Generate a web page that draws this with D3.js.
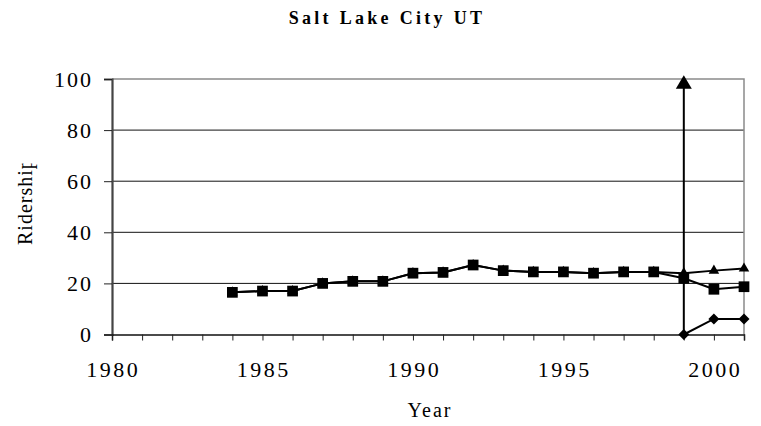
<!DOCTYPE html>
<html>
<head>
<meta charset="utf-8">
<script src="https://cdn.jsdelivr.net/npm/d3@7"></script>
<style>
  html, body { margin: 0; padding: 0; background: #fff; }
  svg { display: block; }
</style>
</head>
<body>
<svg id="chart" width="761" height="426"></svg>
<script>
// Salt Lake City UT ridership by year
const years       = [1984,1985,1986,1987,1988,1989,1990,1991,1992,1993,1994,1995,1996,1997,1998,1999,2000,2001];
const busValues   = [16.5,17.0,17.0,20.0,20.8,20.8,24.0,24.3,27.2,25.0,24.5,24.5,24.0,24.5,24.5,22.0,17.7,18.7];
const totalValues = [16.5,17.0,17.0,20.0,20.8,20.8,24.0,24.3,27.2,25.0,24.5,24.5,24.0,24.5,24.5,24.0,25.0,25.8];
const railYears   = [1999,2000,2001];
const railValues  = [0,6.1,6.1];
const yTicks      = [0,20,40,60,80,100];
const xTickLabels = [1980,1985,1990,1995,2000];
const markerYear  = 1999;          // vertical arrow marking the start of rail service
const markerRange = [0, 101.5];

const SERIF = "'Liberation Serif', 'Times New Roman', 'DejaVu Serif', serif";

const svg = d3.select("#chart");
const x = d3.scaleLinear().domain([1980, 2001]).range([112, 744]);
const y = d3.scaleLinear().domain([0, 100]).range([334.5, 79]);

// title
svg.append("text")
  .attr("x", 387).attr("y", 24)
  .attr("text-anchor", "middle")
  .attr("font-family", SERIF)
  .attr("font-size", 18).attr("font-weight", "bold").attr("letter-spacing", 3.3)
  .text("Salt Lake City UT");

// gridlines
svg.append("g").selectAll("line")
  .data(yTicks.filter(d => d > 0 && d < 100))
  .join("line")
  .attr("x1", x(1980)).attr("x2", x(2001))
  .attr("y1", d => y(d)).attr("y2", d => y(d))
  .attr("stroke", "#111").attr("stroke-width", 1);

// plot area border (top and right)
svg.append("path")
  .attr("d", `M${x(1980)},${y(100)}H${x(2001)}V${y(0)}`)
  .attr("fill", "none").attr("stroke", "#8a8a8a").attr("stroke-width", 1.5);

// y axis
const yAxis = svg.append("g")
  .attr("transform", `translate(${x(1980)},0)`)
  .call(d3.axisLeft(y).tickValues(yTicks).tickSize(8).tickPadding(11).tickFormat(d3.format("d")));
yAxis.attr("font-family", SERIF).attr("font-size", 22);
yAxis.select(".domain").attr("stroke", "#444").attr("stroke-width", 2.2);
yAxis.selectAll(".tick line").attr("stroke", "#222");
yAxis.selectAll(".tick text")
  .attr("fill", "#000").attr("letter-spacing", 2).attr("dy", "0.34em");

// x axis
const xAxis = svg.append("g")
  .attr("transform", `translate(0,${y(0)})`)
  .call(d3.axisBottom(x).tickValues(d3.range(1980, 2002)).tickSize(6).tickFormat(""));
xAxis.select(".domain").attr("stroke", "#111").attr("stroke-width", 1.5);
xAxis.selectAll(".tick line").attr("stroke", "#222");

svg.append("g")
  .attr("font-family", SERIF).attr("font-size", 22)
  .selectAll("text")
  .data(xTickLabels)
  .join("text")
  .attr("x", d => x(d) + 1.3).attr("y", 376.5)
  .attr("text-anchor", "middle")
  .attr("letter-spacing", 2.5)
  .text(d => d);

// axis titles
svg.append("text")
  .attr("x", 430).attr("y", 417)
  .attr("text-anchor", "middle")
  .attr("font-family", SERIF).attr("font-size", 20).attr("letter-spacing", 2)
  .text("Year");

// the y title sits in a fixed-height box and its last glyph is cut off by it
svg.append("clipPath").attr("id", "ytitle-clip")
  .append("rect").attr("x", 0).attr("y", 163.5).attr("width", 60).attr("height", 120);
svg.append("g")
  .attr("clip-path", "url(#ytitle-clip)")
  .append("text")
  .attr("transform", "translate(31.5,245) rotate(-90)")
  .attr("text-anchor", "start")
  .attr("font-family", SERIF).attr("font-size", 20).attr("letter-spacing", 1)
  .text("Ridership");

// series lines and markers
const line = d3.line().x(d => x(d[0])).y(d => y(d[1]));
const total = years.map((yr, i) => [yr, totalValues[i]]);
const bus = years.map((yr, i) => [yr, busValues[i]]);
const rail = railYears.map((yr, i) => [yr, railValues[i]]);

const sym = (type, size) => d3.symbol().type(type).size(size)();

function drawSeries(data, symbolPath) {
  const g = svg.append("g");
  g.append("path").attr("d", line(data))
    .attr("fill", "none").attr("stroke", "#000").attr("stroke-width", 2);
  g.selectAll("path.m").data(data).join("path").attr("class", "m")
    .attr("d", symbolPath)
    .attr("transform", d => `translate(${x(d[0])},${y(d[1])})`)
    .attr("fill", "#000");
}

drawSeries(total, sym(d3.symbolTriangle, 48));
drawSeries(bus, sym(d3.symbolSquare, 115));
drawSeries(rail, "M0,-5.5L5.5,0L0,5.5L-5.5,0Z");

// rail start marker arrow
const ax = x(markerYear);
const tipY = y(markerRange[1]);
svg.append("line")
  .attr("x1", ax).attr("x2", ax)
  .attr("y1", y(markerRange[0])).attr("y2", tipY + 10)
  .attr("stroke", "#000").attr("stroke-width", 2);
svg.append("path")
  .attr("d", `M${ax},${tipY}L${ax + 8},${tipY + 13.5}L${ax - 8},${tipY + 13.5}Z`)
  .attr("fill", "#000");
</script>
</body>
</html>
